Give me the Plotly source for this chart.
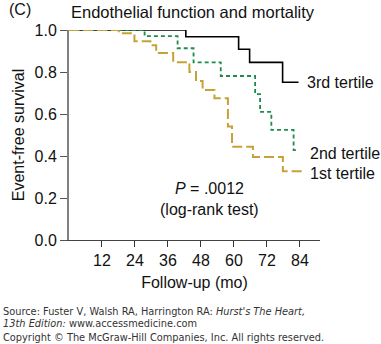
import plotly.graph_objects as go

# Kaplan-Meier step data (months, event-free survival)
third_t = [0, 42.5, 61.7, 65.7, 77.7, 83.5]
third_s = [1.0, 0.968, 0.908, 0.846, 0.751, 0.751]
second_t = [0, 27.5, 39.5, 45.3, 55.2, 67.7, 69.5, 73.6, 81.7, 83.5]
second_s = [1.0, 0.971, 0.913, 0.846, 0.781, 0.695, 0.61, 0.524, 0.428, 0.428]
first_t = [0, 18.1, 23.8, 29.6, 31.7, 37.9, 43.8, 46.2, 48.6, 52.9, 57.8, 59.3, 66.9, 77.8, 84.7]
first_s = [1.0, 0.985, 0.946, 0.927, 0.89, 0.847, 0.8, 0.757, 0.714, 0.675, 0.54, 0.444, 0.395, 0.327, 0.327]

x_ticks = [12, 24, 36, 48, 60, 72, 84]
y_ticks = [0.0, 0.2, 0.4, 0.6, 0.8, 1.0]
y_tick_labels = ["0.0", "0.2", "0.4", "0.6", "0.8", "1.0"]

labels = ["3rd tertile", "2nd tertile", "1st tertile"]
label_y = [0.751, 0.41, 0.318]

FONT = "Liberation Sans, Arial, Helvetica, sans-serif"
BLACK = "#000000"
GREEN = "#1f8c4c"
GOLD = "#c6a236"

W, H = 381, 344
L, R, T, B = 69, 61, 30, 104
PW, PH = W - L - R, H - T - B


def px_to_paper(xpx, ypx):
    return (xpx - L) / PW, (H - B - ypx) / PH


fig = go.Figure()
fig.add_trace(go.Scatter(x=third_t, y=third_s, mode="lines", line_shape="hv",
                         line=dict(color=BLACK, width=1.6), cliponaxis=False,
                         showlegend=False, hoverinfo="skip"))
fig.add_trace(go.Scatter(x=second_t, y=second_s, mode="lines", line_shape="hv",
                         line=dict(color=GREEN, width=1.8, dash="4px,3px"), cliponaxis=False,
                         showlegend=False, hoverinfo="skip"))
fig.add_trace(go.Scatter(x=first_t, y=first_s, mode="lines", line_shape="hv",
                         line=dict(color=GOLD, width=2, dash="10px,4px"), cliponaxis=False,
                         showlegend=False, hoverinfo="skip"))

for txt, yy, xx in zip(labels, label_y, [85.7, 86.9, 86.9]):
    fig.add_annotation(x=xx, y=yy, xref="x", yref="y", text=txt, showarrow=False,
                       xanchor="left", yanchor="middle",
                       font=dict(family=FONT, size=16, color="#111"))

fig.add_annotation(x=51, y=0.243, xref="x", yref="y", text="<i>P</i> = .0012",
                   showarrow=False, xanchor="center", yanchor="middle",
                   font=dict(family=FONT, size=16, color="#111"))
fig.add_annotation(x=51, y=0.143, xref="x", yref="y", text="(log-rank test)",
                   showarrow=False, xanchor="center", yanchor="middle",
                   font=dict(family=FONT, size=16, color="#111"))

# Title and panel letter
tx, ty = px_to_paper(69, 12)
fig.add_annotation(x=tx, y=ty, xref="paper", yref="paper",
                   text="Endothelial function and mortality", showarrow=False,
                   xanchor="left", yanchor="middle",
                   font=dict(family=FONT, size=16.5, color="#111"))
cx, cy = px_to_paper(7, 10)
fig.add_annotation(x=cx, y=cy, xref="paper", yref="paper",
                   text="(C)", showarrow=False, xanchor="left", yanchor="middle",
                   font=dict(family=FONT, size=16, color="#111"))

# Footer
FOOT = "DejaVu Sans, Verdana, sans-serif"
foot_lines = [
    ("Source: Fuster V, Walsh RA, Harrington RA: <i>Hurst's The Heart,</i>", 311),
    ("<i>13th Edition:</i> www.accessmedicine.com", 323.5),
    ("Copyright © The McGraw-Hill Companies, Inc. All rights reserved.", 337),
]
for txt, ypx in foot_lines:
    fx, fy = px_to_paper(1, ypx)
    fig.add_annotation(x=fx, y=fy, xref="paper", yref="paper",
                       text=txt, showarrow=False, xanchor="left", yanchor="middle",
                       font=dict(family=FOOT, size=9.8, color="#333"))

fig.update_layout(
    width=W, height=H,
    margin=dict(l=L, r=R, t=T, b=B),
    paper_bgcolor="white", plot_bgcolor="white",
    font=dict(family=FONT, size=16, color="#111"),
    xaxis=dict(range=[0, 91.3], tickmode="array", tickvals=x_ticks,
               ticks="outside", ticklen=6, tickcolor="#333", tickwidth=1,
               showline=True, linecolor="#444", linewidth=1.3,
               showgrid=False, zeroline=False,
               tickfont=dict(family=FONT, size=16, color="#111"),
               title=dict(text="Follow-up (mo)", standoff=8,
                          font=dict(family=FONT, size=16, color="#111"))),
    yaxis=dict(range=[0, 1.0], tickmode="array", tickvals=y_ticks, ticktext=y_tick_labels,
               ticks="outside", ticklen=7, tickcolor="#555", tickwidth=1,
               showline=True, linecolor="#808080", linewidth=2,
               showgrid=False, zeroline=False,
               tickfont=dict(family=FONT, size=16, color="#111"),
               title=dict(text="Event-free survival", standoff=6,
                          font=dict(family=FONT, size=16, color="#111"))),
)

fig.write_html("out.html")
